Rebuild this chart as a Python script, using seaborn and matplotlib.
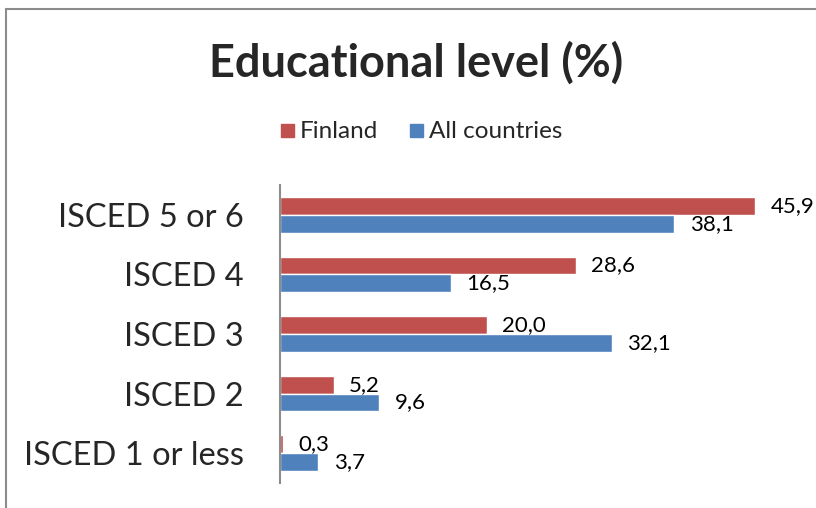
import matplotlib
matplotlib.use("Agg")
import matplotlib.pyplot as plt
import seaborn as sns
import pandas as pd
from matplotlib.patches import Rectangle

categories = ["ISCED 5 or 6", "ISCED 4", "ISCED 3", "ISCED 2", "ISCED 1 or less"]
finland = [45.9, 28.6, 20.0, 5.2, 0.3]
all_countries = [38.1, 16.5, 32.1, 9.6, 3.7]
series = ["Finland", "All countries"]
colors = ["#C0504D", "#4F81BD"]

df = pd.DataFrame({
    "category": categories * 2,
    "value": finland + all_countries,
    "series": [series[0]] * len(categories) + [series[1]] * len(categories),
})

sns.set_theme(style="white")
plt.rcParams["font.family"] = ["Lato", "DejaVu Sans"]

W, H = 816, 508
fig = plt.figure(figsize=(W / 100, H / 100), dpi=100)
ax = fig.add_axes([280 / W, (H - 483) / H, (W - 280) / W, 298 / H])

sns.barplot(data=df, y="category", x="value", hue="series", order=categories,
            hue_order=series, palette=colors, orient="h", width=0.6,
            saturation=1, ax=ax, legend=False)

ax.set_xlim(0, (W - 280) / 10.35)
ax.set_xlabel("")
ax.set_ylabel("")
ax.set_xticks([])
ax.tick_params(axis="y", length=0, pad=26, labelsize=23.5)
for s in ["top", "right", "bottom"]:
    ax.spines[s].set_visible(False)
ax.spines["left"].set_color("#8C8C8C")
ax.spines["left"].set_linewidth(1.5)

for cont, vals in zip(ax.containers, [finland, all_countries]):
    ax.bar_label(cont, labels=[f"{v:.1f}".replace(".", ",") for v in vals],
                 padding=11, fontsize=16, color="black", clip_on=False)

fig.text(416 / W, 1 - 63 / H, "Educational level (%)", ha="center", va="center",
         fontsize=32.5, fontweight="bold")

# legend
ly = 1 - 131 / H
for x0, lab, c in [(281, series[0], colors[0]), (410, series[1], colors[1])]:
    fig.patches.append(Rectangle((x0 / W, ly - 6 / H), 13 / W, 13 / H,
                                 transform=fig.transFigure, color=c))
    fig.text((x0 + 19) / W, ly, lab, ha="left", va="center", fontsize=17.5)

# chart border
fig.patches.append(Rectangle((6 / W, -0.1), 2.0, (H - 9) / H + 0.1,
                             transform=fig.transFigure, fill=False,
                             edgecolor="#8C8C8C", linewidth=1.5, clip_on=False))

fig.savefig("out.png", dpi=100)
